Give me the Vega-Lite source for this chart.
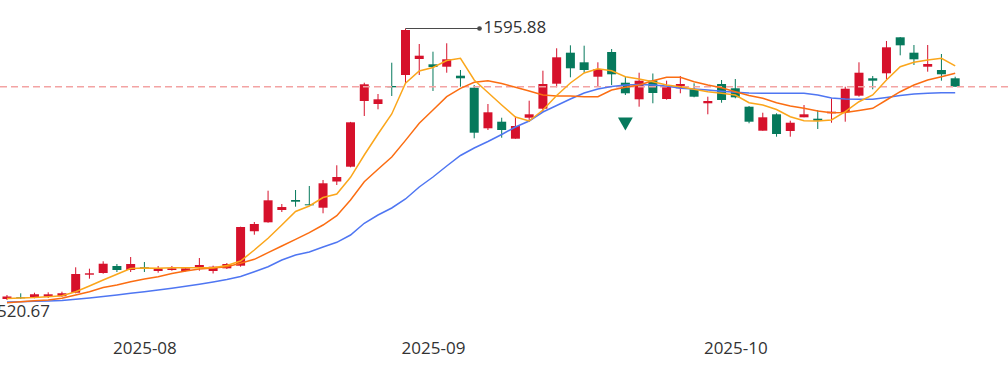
{
  "$schema": "https://vega.github.io/schema/vega-lite/v6.json",
  "width": 1008,
  "height": 330,
  "autosize": {"type": "none"},
  "padding": {"left": 0, "top": 0, "right": 0, "bottom": 41},
  "background": "white",
  "config": {"view": {"stroke": null}, "font": "Open Sans", "axis": {"grid": false, "domain": false, "ticks": false, "tickSize": 0, "title": null}},
  "data": {
    "values": [
      {"d": "2025-07-18", "i": 0, "o": 524.7, "c": 534.6, "h": 540.5, "l": 520.67, "ma5": 526.7, "ma10": 510.1, "ma20": 512.8},
      {"d": "2025-07-21", "i": 1, "o": 531.4, "c": 527.5, "h": 547.2, "l": 524.7, "ma5": 528.7, "ma10": 514.0, "ma20": 514.0},
      {"d": "2025-07-22", "i": 2, "o": 531.4, "c": 543.3, "h": 549.6, "l": 527.5, "ma5": 530.6, "ma10": 517.6, "ma20": 515.6},
      {"d": "2025-07-23", "i": 3, "o": 533.8, "c": 543.3, "h": 551.2, "l": 528.7, "ma5": 533.8, "ma10": 520.7, "ma20": 517.2},
      {"d": "2025-07-24", "i": 4, "o": 535.4, "c": 547.2, "h": 553.6, "l": 533.8, "ma5": 537.8, "ma10": 527.5, "ma20": 518.8},
      {"d": "2025-07-25", "i": 5, "o": 549.6, "c": 623.7, "h": 650.2, "l": 547.2, "ma5": 553.6, "ma10": 540.5, "ma20": 523.5},
      {"d": "2025-07-28", "i": 6, "o": 620.9, "c": 626.5, "h": 644.7, "l": 605.1, "ma5": 576.2, "ma10": 553.6, "ma20": 528.7},
      {"d": "2025-07-29", "i": 7, "o": 627.6, "c": 664.4, "h": 674.0, "l": 624.9, "ma5": 599.9, "ma10": 570.2, "ma20": 534.6},
      {"d": "2025-07-30", "i": 8, "o": 655.4, "c": 639.5, "h": 663.3, "l": 631.6, "ma5": 622.5, "ma10": 580.1, "ma20": 540.5},
      {"d": "2025-07-31", "i": 9, "o": 639.5, "c": 663.3, "h": 691.0, "l": 631.6, "ma5": 645.5, "ma10": 593.2, "ma20": 547.3},
      {"d": "2025-08-01", "i": 10, "o": 650.2, "c": 644.7, "h": 671.2, "l": 631.6, "ma5": 647.5, "ma10": 603.9, "ma20": 553.6},
      {"d": "2025-08-04", "i": 11, "o": 635.6, "c": 646.2, "h": 655.4, "l": 628.8, "ma5": 646.3, "ma10": 613.0, "ma20": 560.3},
      {"d": "2025-08-05", "i": 12, "o": 639.5, "c": 646.2, "h": 655.4, "l": 636.8, "ma5": 648.6, "ma10": 625.7, "ma20": 567.1},
      {"d": "2025-08-06", "i": 13, "o": 635.6, "c": 646.2, "h": 649.4, "l": 633.6, "ma5": 648.6, "ma10": 635.6, "ma20": 575.0},
      {"d": "2025-08-07", "i": 14, "o": 650.2, "c": 659.3, "h": 687.0, "l": 636.8, "ma5": 648.6, "ma10": 643.5, "ma20": 582.9},
      {"d": "2025-08-08", "i": 15, "o": 635.6, "c": 652.6, "h": 656.6, "l": 625.7, "ma5": 648.6, "ma10": 647.5, "ma20": 592.0},
      {"d": "2025-08-11", "i": 16, "o": 646.2, "c": 663.3, "h": 667.2, "l": 643.5, "ma5": 657.4, "ma10": 652.6, "ma20": 601.9},
      {"d": "2025-08-12", "i": 17, "o": 656.6, "c": 809.8, "h": 811.0, "l": 652.6, "ma5": 675.2, "ma10": 666.1, "ma20": 613.8},
      {"d": "2025-08-13", "i": 18, "o": 792.8, "c": 821.7, "h": 829.6, "l": 779.3, "ma5": 718.7, "ma10": 681.9, "ma20": 632.8},
      {"d": "2025-08-14", "i": 19, "o": 828.4, "c": 915.5, "h": 953.6, "l": 826.8, "ma5": 765.1, "ma10": 708.1, "ma20": 652.6},
      {"d": "2025-08-15", "i": 20, "o": 877.1, "c": 888.9, "h": 900.9, "l": 869.2, "ma5": 817.7, "ma10": 734.6, "ma20": 679.1},
      {"d": "2025-08-18", "i": 21, "o": 916.7, "c": 910.0, "h": 956.3, "l": 890.2, "ma5": 871.2, "ma10": 761.1, "ma20": 698.9},
      {"d": "2025-08-19", "i": 22, "o": 899.7, "c": 895.7, "h": 972.2, "l": 895.7, "ma5": 893.0, "ma10": 787.3, "ma20": 710.8},
      {"d": "2025-08-20", "i": 23, "o": 886.2, "c": 982.9, "h": 996.0, "l": 864.1, "ma5": 926.6, "ma10": 817.7, "ma20": 730.6},
      {"d": "2025-08-21", "i": 24, "o": 990.0, "c": 1007.8, "h": 1054.2, "l": 976.1, "ma5": 940.5, "ma10": 854.6, "ma20": 749.2},
      {"d": "2025-08-22", "i": 25, "o": 1048.6, "c": 1224.4, "h": 1226.0, "l": 1046.2, "ma5": 1006.6, "ma10": 916.7, "ma20": 778.1},
      {"d": "2025-08-25", "i": 26, "o": 1308.8, "c": 1374.9, "h": 1381.2, "l": 1249.4, "ma5": 1094.9, "ma10": 989.2, "ma20": 824.5},
      {"d": "2025-08-26", "i": 27, "o": 1296.9, "c": 1315.5, "h": 1336.5, "l": 1275.9, "ma5": 1178.1, "ma10": 1038.3, "ma20": 857.3},
      {"d": "2025-08-27", "i": 28, "o": 1368.2, "c": 1363.0, "h": 1460.4, "l": 1328.6, "ma5": 1257.3, "ma10": 1087.0, "ma20": 885.1},
      {"d": "2025-08-28", "i": 29, "o": 1411.7, "c": 1589.9, "h": 1595.88, "l": 1378.9, "ma5": 1378.9, "ma10": 1152.8, "ma20": 920.7},
      {"d": "2025-08-29", "i": 30, "o": 1475.1, "c": 1488.2, "h": 1534.5, "l": 1411.7, "ma5": 1427.6, "ma10": 1220.5, "ma20": 968.2},
      {"d": "2025-09-01", "i": 31, "o": 1454.1, "c": 1443.4, "h": 1504.0, "l": 1348.4, "ma5": 1441.4, "ma10": 1273.1, "ma20": 1007.8},
      {"d": "2025-09-02", "i": 32, "o": 1444.6, "c": 1473.9, "h": 1537.3, "l": 1420.8, "ma5": 1469.2, "ma10": 1325.8, "ma20": 1051.4},
      {"d": "2025-09-03", "i": 33, "o": 1409.0, "c": 1398.7, "h": 1431.5, "l": 1365.4, "ma5": 1477.9, "ma10": 1359.1, "ma20": 1093.0},
      {"d": "2025-09-04", "i": 34, "o": 1361.4, "c": 1183.2, "h": 1372.1, "l": 1161.1, "ma5": 1391.9, "ma10": 1382.8, "ma20": 1122.7},
      {"d": "2025-09-05", "i": 35, "o": 1200.7, "c": 1264.0, "h": 1296.9, "l": 1193.9, "ma5": 1342.4, "ma10": 1389.2, "ma20": 1148.4},
      {"d": "2025-09-08", "i": 36, "o": 1226.8, "c": 1193.9, "h": 1242.6, "l": 1163.4, "ma5": 1292.9, "ma10": 1378.1, "ma20": 1176.1},
      {"d": "2025-09-09", "i": 37, "o": 1159.5, "c": 1209.8, "h": 1246.6, "l": 1159.5, "ma5": 1245.4, "ma10": 1363.0, "ma20": 1205.8},
      {"d": "2025-09-10", "i": 38, "o": 1242.6, "c": 1256.1, "h": 1310.0, "l": 1225.6, "ma5": 1229.6, "ma10": 1348.4, "ma20": 1229.6},
      {"d": "2025-09-11", "i": 39, "o": 1278.3, "c": 1376.1, "h": 1428.8, "l": 1266.4, "ma5": 1273.1, "ma10": 1332.5, "ma20": 1265.2},
      {"d": "2025-09-12", "i": 40, "o": 1377.3, "c": 1481.8, "h": 1517.5, "l": 1363.0, "ma5": 1330.6, "ma10": 1328.6, "ma20": 1291.0},
      {"d": "2025-09-15", "i": 41, "o": 1500.1, "c": 1438.3, "h": 1529.3, "l": 1402.6, "ma5": 1380.1, "ma10": 1328.6, "ma20": 1316.7},
      {"d": "2025-09-16", "i": 42, "o": 1462.0, "c": 1431.5, "h": 1527.8, "l": 1420.8, "ma5": 1419.7, "ma10": 1325.8, "ma20": 1340.5},
      {"d": "2025-09-17", "i": 43, "o": 1405.0, "c": 1435.5, "h": 1462.0, "l": 1365.4, "ma5": 1436.3, "ma10": 1325.8, "ma20": 1356.3},
      {"d": "2025-09-18", "i": 44, "o": 1502.8, "c": 1414.5, "h": 1514.7, "l": 1372.1, "ma5": 1428.8, "ma10": 1352.3, "ma20": 1366.2},
      {"d": "2025-09-19", "i": 45, "o": 1381.2, "c": 1339.3, "h": 1405.0, "l": 1332.5, "ma5": 1405.0, "ma10": 1363.0, "ma20": 1372.1},
      {"d": "2025-09-22", "i": 46, "o": 1315.5, "c": 1389.2, "h": 1420.8, "l": 1286.2, "ma5": 1395.9, "ma10": 1372.1, "ma20": 1374.1},
      {"d": "2025-09-23", "i": 47, "o": 1390.0, "c": 1340.5, "h": 1417.7, "l": 1299.7, "ma5": 1385.2, "ma10": 1389.2, "ma20": 1372.1},
      {"d": "2025-09-24", "i": 48, "o": 1316.7, "c": 1365.4, "h": 1389.2, "l": 1314.0, "ma5": 1372.1, "ma10": 1402.6, "ma20": 1368.2},
      {"d": "2025-09-25", "i": 49, "o": 1359.1, "c": 1376.1, "h": 1407.8, "l": 1339.3, "ma5": 1365.4, "ma10": 1402.6, "ma20": 1359.1},
      {"d": "2025-09-26", "i": 50, "o": 1355.1, "c": 1325.8, "h": 1378.9, "l": 1323.4, "ma5": 1355.1, "ma10": 1385.2, "ma20": 1356.3},
      {"d": "2025-09-29", "i": 51, "o": 1299.7, "c": 1308.8, "h": 1325.8, "l": 1256.1, "ma5": 1345.6, "ma10": 1372.1, "ma20": 1352.3},
      {"d": "2025-09-30", "i": 52, "o": 1376.1, "c": 1312.7, "h": 1391.9, "l": 1302.0, "ma5": 1339.3, "ma10": 1361.5, "ma20": 1347.2},
      {"d": "2025-10-09", "i": 53, "o": 1359.1, "c": 1323.4, "h": 1395.9, "l": 1319.5, "ma5": 1332.5, "ma10": 1345.6, "ma20": 1343.2},
      {"d": "2025-10-10", "i": 54, "o": 1286.2, "c": 1226.8, "h": 1289.0, "l": 1220.5, "ma5": 1302.1, "ma10": 1330.6, "ma20": 1340.5},
      {"d": "2025-10-13", "i": 55, "o": 1191.2, "c": 1244.2, "h": 1262.4, "l": 1191.2, "ma5": 1292.9, "ma10": 1319.5, "ma20": 1339.3},
      {"d": "2025-10-14", "i": 56, "o": 1256.1, "c": 1178.1, "h": 1260.1, "l": 1167.4, "ma5": 1275.1, "ma10": 1302.1, "ma20": 1339.3},
      {"d": "2025-10-15", "i": 57, "o": 1190.0, "c": 1222.8, "h": 1230.8, "l": 1167.4, "ma5": 1246.6, "ma10": 1289.0, "ma20": 1339.3},
      {"d": "2025-10-16", "i": 58, "o": 1244.2, "c": 1256.1, "h": 1292.9, "l": 1244.2, "ma5": 1230.8, "ma10": 1279.9, "ma20": 1339.3},
      {"d": "2025-10-17", "i": 59, "o": 1238.7, "c": 1230.8, "h": 1273.1, "l": 1197.9, "ma5": 1229.6, "ma10": 1269.2, "ma20": 1332.5},
      {"d": "2025-10-20", "i": 60, "o": 1260.1, "c": 1266.4, "h": 1319.5, "l": 1222.8, "ma5": 1233.5, "ma10": 1262.5, "ma20": 1320.7},
      {"d": "2025-10-21", "i": 61, "o": 1264.0, "c": 1357.5, "h": 1365.4, "l": 1226.8, "ma5": 1266.4, "ma10": 1263.2, "ma20": 1316.7},
      {"d": "2025-10-22", "i": 62, "o": 1329.8, "c": 1420.8, "h": 1462.0, "l": 1325.8, "ma5": 1306.0, "ma10": 1271.2, "ma20": 1315.5},
      {"d": "2025-10-23", "i": 63, "o": 1398.7, "c": 1389.2, "h": 1407.8, "l": 1355.1, "ma5": 1332.5, "ma10": 1279.9, "ma20": 1315.5},
      {"d": "2025-10-24", "i": 64, "o": 1418.5, "c": 1521.4, "h": 1546.4, "l": 1394.7, "ma5": 1391.9, "ma10": 1312.7, "ma20": 1322.6},
      {"d": "2025-10-27", "i": 65, "o": 1561.0, "c": 1529.3, "h": 1562.0, "l": 1489.7, "ma5": 1444.6, "ma10": 1345.6, "ma20": 1330.6},
      {"d": "2025-10-28", "i": 66, "o": 1500.1, "c": 1473.9, "h": 1530.5, "l": 1451.3, "ma5": 1462.0, "ma10": 1372.1, "ma20": 1336.5},
      {"d": "2025-10-29", "i": 67, "o": 1444.6, "c": 1455.3, "h": 1530.5, "l": 1424.8, "ma5": 1471.1, "ma10": 1391.9, "ma20": 1339.3},
      {"d": "2025-10-30", "i": 68, "o": 1431.5, "c": 1414.5, "h": 1494.9, "l": 1389.2, "ma5": 1477.9, "ma10": 1405.0, "ma20": 1341.3},
      {"d": "2025-10-31", "i": 69, "o": 1398.7, "c": 1365.4, "h": 1405.0, "l": 1365.4, "ma5": 1448.2, "ma10": 1418.5, "ma20": 1341.7}
    ]
  },
  "layer": [
    {
      "mark": {"type": "rule", "strokeWidth": 1},
      "encoding": {
        "x": {"field": "i", "type": "quantitative", "scale": {"domain": [-0.144, 72.48], "nice": false, "zero": false},
          "axis": {"values": [10, 31, 53], "labelExpr": "datum.value < 20 ? '2025-08' : datum.value < 40 ? '2025-09' : '2025-10'", "grid": false, "domain": false, "ticks": false, "tickSize": 0, "labelPadding": 10, "labelFontSize": 17, "labelColor": "#333333", "labelFont": "Open Sans", "title": null, "labelFlush": false, "labelOverlap": false}},
        "y": {"field": "l", "type": "quantitative", "scale": {"domain": [401.94, 1708.74], "nice": false, "zero": false}, "axis": null},
        "y2": {"field": "h"},
        "color": {"condition": {"test": "datum.c >= datum.o", "value": "#d6112b"}, "value": "#06795c"}
      }
    },
    {
      "mark": {"type": "bar", "size": 9, "orient": "vertical"},
      "encoding": {
        "x": {"field": "i", "type": "quantitative"},
        "y": {"field": "o", "type": "quantitative"},
        "y2": {"field": "c"},
        "color": {"condition": {"test": "datum.c >= datum.o", "value": "#d6112b"}, "value": "#06795c"}
      }
    },
    {
      "data": {"values": [{"price": 1365.4}]},
      "mark": {"type": "rule", "strokeDash": [7, 4], "color": "#f3a3a3", "strokeWidth": 1.5},
      "encoding": {
        "y": {"field": "price", "type": "quantitative"}
      }
    },
    {
      "mark": {"type": "line", "color": "#4f76f2", "strokeWidth": 1.5},
      "encoding": {
        "x": {"field": "i", "type": "quantitative"},
        "y": {"field": "ma20", "type": "quantitative"}
      }
    },
    {
      "mark": {"type": "line", "color": "#fb6d12", "strokeWidth": 1.5},
      "encoding": {
        "x": {"field": "i", "type": "quantitative"},
        "y": {"field": "ma10", "type": "quantitative"}
      }
    },
    {
      "mark": {"type": "line", "color": "#fba61b", "strokeWidth": 1.5},
      "encoding": {
        "x": {"field": "i", "type": "quantitative"},
        "y": {"field": "ma5", "type": "quantitative"}
      }
    },
    {
      "data": {"values": [{"i": 29, "v": 1595.88, "t": "1595.88"}]},
      "layer": [
        {
          "mark": {"type": "rule", "color": "#4a4a4a", "strokeWidth": 1, "x2Offset": 74},
          "encoding": {
            "x": {"field": "i", "type": "quantitative"},
            "x2": {"field": "i"},
            "y": {"field": "v", "type": "quantitative"}
          }
        },
        {
          "mark": {"type": "point", "filled": true, "size": 22, "color": "#4a4a4a", "opacity": 1, "xOffset": 74},
          "encoding": {
            "x": {"field": "i", "type": "quantitative"},
            "y": {"field": "v", "type": "quantitative"}
          }
        },
        {
          "mark": {"type": "text", "align": "left", "baseline": "middle", "dx": 78, "dy": -1, "fontSize": 17, "font": "Open Sans", "color": "#333333"},
          "encoding": {
            "x": {"field": "i", "type": "quantitative"},
            "y": {"field": "v", "type": "quantitative"},
            "text": {"field": "t"}
          }
        }
      ]
    },
    {
      "data": {"values": [{"i": 0, "v": 520.67, "t": "520.67"}]},
      "mark": {"type": "text", "align": "left", "baseline": "middle", "dx": -10, "dy": 12, "fontSize": 17, "font": "Open Sans", "color": "#333333"},
      "encoding": {
        "x": {"field": "i", "type": "quantitative"},
        "y": {"field": "v", "type": "quantitative"},
        "text": {"field": "t"}
      }
    },
    {
      "data": {"values": [{"i": 45, "v": 1217.7}]},
      "mark": {"type": "point", "shape": "triangle-down", "filled": true, "size": 220, "color": "#06795c", "opacity": 1},
      "encoding": {
        "x": {"field": "i", "type": "quantitative"},
        "y": {"field": "v", "type": "quantitative"}
      }
    }
  ]
}
